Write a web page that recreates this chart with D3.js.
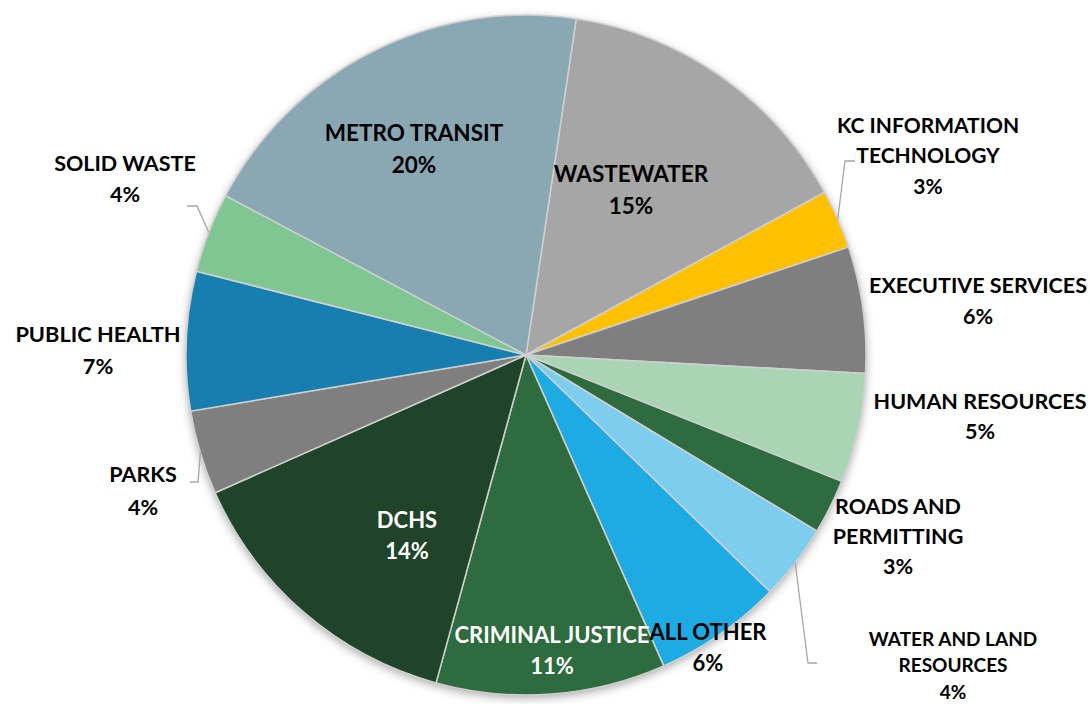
<!DOCTYPE html>
<html>
<head>
<meta charset="utf-8">
<script src="https://cdn.jsdelivr.net/npm/d3@7"></script>
<style>
  body { margin: 0; background: #fff; }
  text { font-family: Lato, "Open Sans", sans-serif; font-weight: 700; }
</style>
</head>
<body>
<div id="pieChart"></div>
<script>
/* budget share by department, clockwise from the top */
const departments = ["WASTEWATER", "KC INFORMATION TECHNOLOGY", "EXECUTIVE SERVICES", "HUMAN RESOURCES",
  "ROADS AND PERMITTING", "WATER AND LAND RESOURCES", "ALL OTHER", "CRIMINAL JUSTICE", "DCHS",
  "PARKS", "PUBLIC HEALTH", "SOLID WASTE", "METRO TRANSIT"];
const shares = [14.7, 2.8, 6.0, 5.2, 2.6, 3.6, 6.1, 10.9, 14.1, 4.0, 6.6, 3.8, 19.6];
const labelLines = [["WASTEWATER"], ["KC INFORMATION", "TECHNOLOGY"], ["EXECUTIVE SERVICES"], ["HUMAN RESOURCES"],
  ["ROADS AND", "PERMITTING"], ["WATER AND LAND", "RESOURCES"], ["ALL OTHER"], ["CRIMINAL JUSTICE"], ["DCHS"],
  ["PARKS"], ["PUBLIC HEALTH"], ["SOLID WASTE"], ["METRO TRANSIT"]];

const colors = ["#a6a6a6", "#ffc000", "#7f7f7f", "#a9d5b5", "#2e6b3e", "#7dcdef", "#1eaae2",
  "#2e6b3e", "#1f4429", "#7f7f7f", "#177faf", "#7fc692", "#8aa7b4"];

const w = 1090;
const h = 704;
const cx = 526, cy = 355, r = 340;
const rotation = 8.5 * Math.PI / 180;

/* label placement: offset of first line from pie centre, line step, size, colour, leader elbow */
const labelLayout = [
  {dx: 105, dy: -181, step: 32, size: 22.5, fill: "#000"},
  {dx: 402, dy: -230, step: 30.5, size: 21, fill: "#000", elbow: [319, -194], end: [329, -194]},
  {dx: 452, dy: -70, step: 31, size: 21.5, fill: "#000"},
  {dx: 454, dy: 46, step: 30, size: 21.5, fill: "#000"},
  {dx: 372, dy: 151, step: 30, size: 21.5, fill: "#000"},
  {dx: 427, dy: 284, step: 26.5, size: 19, fill: "#000", elbow: [282, 308], end: [291, 308]},
  {dx: 182, dy: 277, step: 31, size: 22, fill: "#000"},
  {dx: 26, dy: 280, step: 31, size: 22, fill: "#fff"},
  {dx: -119, dy: 165, step: 31, size: 22, fill: "#fff"},
  {dx: -383, dy: 119, step: 33, size: 21.5, fill: "#000", elbow: [-328, 127], end: [-336, 127]},
  {dx: -428, dy: -21, step: 32, size: 21.8, fill: "#000"},
  {dx: -401, dy: -192, step: 31, size: 21.5, fill: "#000", elbow: [-329, -149], end: [-339, -149]},
  {dx: -112, dy: -222, step: 32, size: 22.5, fill: "#000"}
];

const svg = d3.select("#pieChart")
  .append("svg")
  .attr("width", w)
  .attr("height", h);

const defs = svg.append("defs");
const filt = defs.append("filter").attr("id", "shadow")
  .attr("x", "-20%").attr("y", "-20%").attr("width", "140%").attr("height", "140%");
filt.append("feDropShadow")
  .attr("dx", 0).attr("dy", 3)
  .attr("stdDeviation", 5)
  .attr("flood-color", "#000")
  .attr("flood-opacity", 0.35);

const g = svg.append("g").attr("transform", "translate(" + cx + "," + cy + ")");

const pie = d3.pie().sort(null).value(d => d)
  .startAngle(rotation).endAngle(rotation + 2 * Math.PI);
const arcs = pie(shares);
const arc = d3.arc().innerRadius(0).outerRadius(r);

g.append("circle").attr("r", r).attr("fill", "#ccc").attr("filter", "url(#shadow)");

g.selectAll("path.slice")
  .data(arcs)
  .enter()
  .append("path")
  .attr("class", "slice")
  .attr("d", arc)
  .attr("fill", (d, i) => colors[i])
  .attr("stroke", "#d0d0d0")
  .attr("stroke-width", 1.5)
  .append("title")
  .text((d, i) => departments[i] + ": " + Math.round(d.data) + "%");

/* leader lines for small outside slices */
arcs.forEach((d, i) => {
  const L = labelLayout[i];
  if (!L.elbow) return;
  const mid = (d.startAngle + d.endAngle) / 2;
  const edge = [r * Math.sin(mid), -r * Math.cos(mid)];
  g.append("polyline")
    .attr("points", [edge, L.elbow, L.end].map(p => p.join(",")).join(" "))
    .attr("fill", "none")
    .attr("stroke", "#a6a6a6")
    .attr("stroke-width", 1.3);
});

/* data labels */
arcs.forEach((d, i) => {
  const L = labelLayout[i];
  const lines = labelLines[i].concat([Math.round(d.data) + "%"]);
  const t = g.append("text")
    .attr("text-anchor", "middle")
    .attr("fill", L.fill)
    .style("font-size", L.size + "px");
  lines.forEach((s, k) => {
    t.append("tspan")
      .attr("x", L.dx)
      .attr("y", L.dy + k * L.step)
      .attr("dy", "0.36em")
      .text(s);
  });
});
</script>
</body>
</html>
